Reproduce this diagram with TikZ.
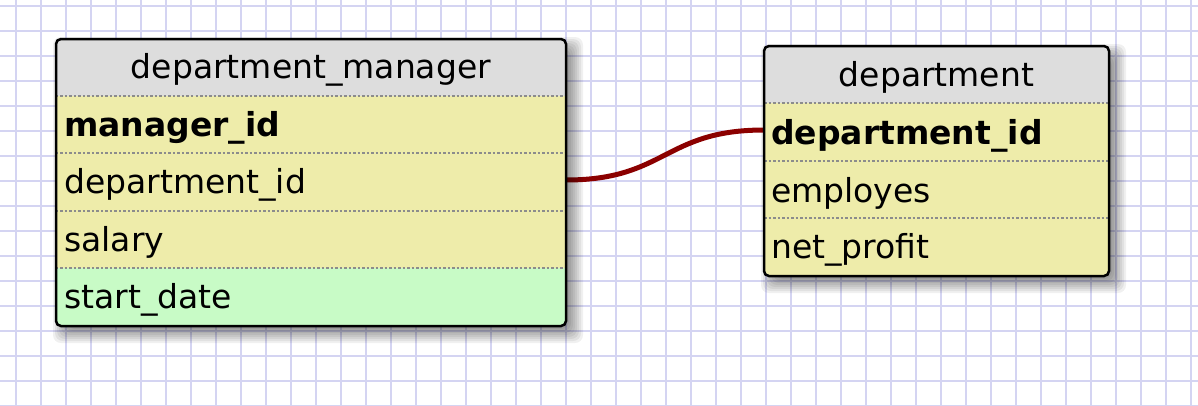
\documentclass[tikz,border=0pt]{standalone}
\usepackage{fontspec}
\setmainfont{DejaVu Sans}
\usetikzlibrary{backgrounds}
\definecolor{gridc}{HTML}{D4D4F2}
\definecolor{hdrc}{HTML}{DDDDDD}
\definecolor{rowc}{HTML}{EEECAA}
\definecolor{grnc}{HTML}{C8FBC6}
\definecolor{sepc}{HTML}{8C8C8C}
\definecolor{connc}{HTML}{8B0000}
\pgfdeclarelayer{gridlayer}
\pgfdeclarelayer{connlayer}
\pgfdeclarelayer{shadowlayer}
\pgfsetlayers{gridlayer,connlayer,shadowlayer,main}
\tikzset{
  cellbox/.style={draw=none, inner sep=0pt, outer sep=0pt, minimum height=#1},
  lcell/.style={cellbox=#1, minimum width=510bp},
  rcell/.style={cellbox=#1, minimum width=345bp},
  lbl/.style={inner sep=0pt, anchor=base west, font=\fontsize{33bp}{40bp}\selectfont},
  hlbl/.style={inner sep=0pt, anchor=base, font=\fontsize{33bp}{40bp}\selectfont},
  sepline/.style={draw=sepc, line width=2.5bp, dash pattern=on 2.5bp off 2bp},
  frame/.style={draw=black, line width=2.5bp, rounded corners=5bp},
  conn/.style={draw=connc, line width=5bp},
  shadowpiece/.style={fill=black, fill opacity=0.06, rounded corners=8bp}
}
\begin{document}
\begin{tikzpicture}[x=1bp,y=-1bp]
\useasboundingbox (0,0) rectangle (1198,405);
% grid
\begin{pgfonlayer}{gridlayer}
  \fill[white] (0,0) rectangle (1198,405);
  \foreach \gx in {0,...,47} \draw[gridc, line width=2.5bp] ({16+25*\gx},0) -- ({16+25*\gx},405);
  \foreach \gy in {0,...,16} \draw[gridc, line width=2.5bp] (0,{6+25*\gy}) -- (1198,{6+25*\gy});
\end{pgfonlayer}
% shadows
\begin{pgfonlayer}{shadowlayer}
  \foreach \e in {-10,-8,...,10} {
    \fill[shadowpiece] ({63-(\e)},{47-(\e)}) rectangle ({573+(\e)},{333+(\e)});
    \fill[shadowpiece] ({771-(\e)},{54-(\e)}) rectangle ({1116+(\e)},{283+(\e)});
  }
\end{pgfonlayer}
% left table: department_manager
\begin{scope}
  \clip[rounded corners=5bp] (56,39) rectangle (566,326);
  \node[lcell=57bp, fill=hdrc] (lh) at (311,67.5) {};
  \node[lcell=57bp, fill=rowc] (lr1) at (311,124.5) {};
  \node[lcell=58bp, fill=rowc] (lr2) at (311,182) {};
  \node[lcell=57bp, fill=rowc] (lr3) at (311,239.5) {};
  \node[lcell=58bp, fill=grnc] (lr4) at (311,297) {};
\end{scope}
\draw[sepline] (lr1.north west) -- (lr1.north east);
\draw[sepline] (lr2.north west) -- (lr2.north east);
\draw[sepline] (lr3.north west) -- (lr3.north east);
\draw[sepline] (lr4.north west) -- (lr4.north east);
\draw[frame] (56,39) rectangle (566,326);
\node[hlbl] (lht) at (311,78) {department\_manager};
\node[lbl] (lt1) at (64,136) {\textbf{manager\_id}};
\node[lbl] (lt2) at (64,193) {department\_id};
\node[lbl] (lt3) at (64,251) {salary};
\node[lbl] (lt4) at (64,308) {start\_date};
% right table: department
\begin{scope}
  \clip[rounded corners=5bp] (764,46) rectangle (1109,276);
  \node[rcell=57bp, fill=hdrc] (rh) at (936.5,74.5) {};
  \node[rcell=58bp, fill=rowc] (rr1) at (936.5,132) {};
  \node[rcell=57bp, fill=rowc] (rr2) at (936.5,189.5) {};
  \node[rcell=58bp, fill=rowc] (rr3) at (936.5,247) {};
\end{scope}
\draw[sepline] (rr1.north west) -- (rr1.north east);
\draw[sepline] (rr2.north west) -- (rr2.north east);
\draw[sepline] (rr3.north west) -- (rr3.north east);
\draw[frame] (764,46) rectangle (1109,276);
\node[hlbl] (rht) at (936.5,86) {department};
\node[lbl] (rt1) at (771,144) {\textbf{department\_id}};
\node[lbl] (rt2) at (771,202) {employes};
\node[lbl] (rt3) at (771,258) {net\_profit};
% connector
\begin{pgfonlayer}{connlayer}
  \draw[conn] ([yshift=2bp]lr2.east) .. controls +(100,0) and +(-100,0) .. ([yshift=2bp]rr1.west);
\end{pgfonlayer}
\end{tikzpicture}
\end{document}
